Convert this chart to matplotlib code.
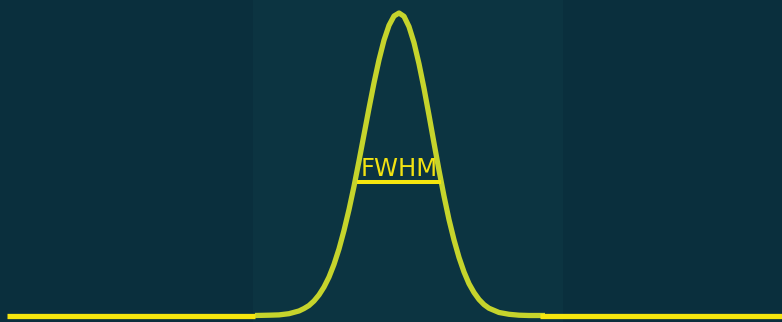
import matplotlib
matplotlib.use("Agg")
import matplotlib.pyplot as plt

# Peak profile (x in px, intensity normalised to peak)
peak_x = [255, 269, 279, 289, 299, 304, 309, 314, 319, 324, 329, 334, 339, 344,
          349, 354, 359, 364, 369, 374, 379, 384, 389, 394, 399,
          404, 409, 414, 419, 424, 429, 434, 439, 444, 449, 454, 459, 464,
          469, 474, 479, 484, 489, 499, 509, 519, 529, 545]
peak_y = [0.0, 0.001, 0.002, 0.006, 0.015, 0.023, 0.033, 0.048, 0.068, 0.094,
          0.127, 0.169, 0.220, 0.281, 0.350, 0.427, 0.511, 0.598, 0.685, 0.769,
          0.845, 0.910, 0.959, 0.990, 1.0,
          0.989, 0.955, 0.902, 0.832, 0.751, 0.662, 0.570, 0.480, 0.395, 0.317,
          0.250, 0.192, 0.144, 0.105, 0.076, 0.053, 0.036, 0.024, 0.010, 0.004,
          0.001, 0.0, 0.0]

left_base_x = [7, 255]
right_base_x = [540, 782]
base_level = 0.0

fwhm_x = [357, 441]
fwhm_level = 0.441
fwhm_label = "FWHM"

shade_x = [253, 563]

BG = "#0a2f3d"
SHADE = "#0c3441"
CURVE = "#c6d42c"
BASE = "#f6e60e"
TEXT = "#f2e212"

fig = plt.figure(figsize=(7.82, 3.22), dpi=100, facecolor=BG)
ax = fig.add_axes([0, 0, 1, 1])
ax.set_facecolor(BG)
ax.set_xlim(0, 782)
# 1 unit of intensity = 302.5 px; baseline sits 6.5 px above the bottom
ax.set_ylim(-6.5 / 302.5, 315.5 / 302.5)
ax.axis("off")

ax.axvspan(shade_x[0], shade_x[1], color=SHADE, zorder=0, lw=0)

ax.plot(left_base_x, [base_level] * 2, color=BASE, lw=3.8, solid_capstyle="butt", zorder=3)
ax.plot(right_base_x, [base_level] * 2, color=BASE, lw=3.8, solid_capstyle="butt", zorder=3)
ax.plot(peak_x, peak_y, color=CURVE, lw=3.8, solid_capstyle="butt",
        solid_joinstyle="round", zorder=2)
ax.plot(fwhm_x, [fwhm_level] * 2, color=BASE, lw=2.9, solid_capstyle="butt", zorder=4)
ax.text(sum(fwhm_x) / 2, fwhm_level + 0.005, fwhm_label, color=TEXT, fontsize=17.5,
        ha="center", va="bottom", family="DejaVu Sans", zorder=5)

fig.savefig("out.png", dpi=100, facecolor=BG)
